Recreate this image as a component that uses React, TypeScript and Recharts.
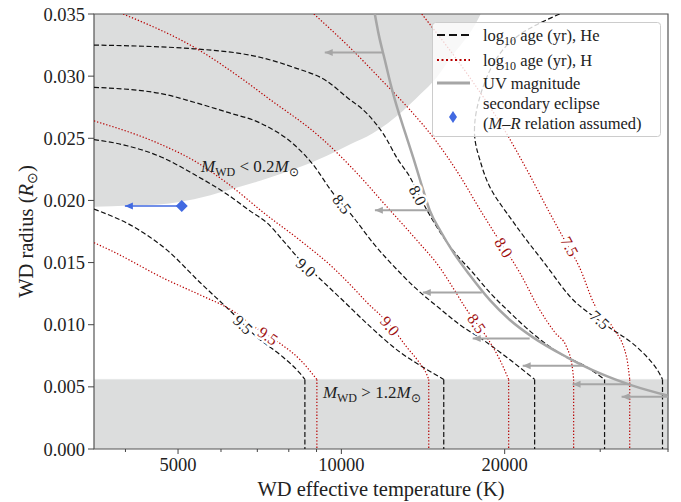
import React from 'react';
import {
  ComposedChart,
  Line,
  Area,
  Scatter,
  XAxis,
  YAxis,
  ReferenceArea,
  Legend
} from 'recharts';

// [T_eff (K), R (R_sun)]
const he75 = [[25252, 0.035], [21955, 0.0337], [19831, 0.0321], [18532, 0.0299], [17760, 0.0273], [17612, 0.0251], [17990, 0.0233], [18768, 0.0211], [20171, 0.019], [21955, 0.0168], [24204, 0.0144], [26344, 0.0123], [28676, 0.0109], [31612, 0.0096], [34414, 0.0085], [37456, 0.0069], [39078, 0.0056]];
const he80 = [[3500, 0.0325], [5351, 0.0322], [7109, 0.0315], [8176, 0.0307], [9403, 0.0296], [10236, 0.0283], [11142, 0.027], [11974, 0.0253], [12706, 0.0233], [13370, 0.0219], [13948, 0.0203], [14739, 0.0184], [16043, 0.016], [17463, 0.0142], [18768, 0.0126], [20428, 0.011], [22522, 0.0093], [25252, 0.0077], [28318, 0.0066], [30559, 0.0056]];
const he85 = [[3500, 0.0291], [4652, 0.0286], [5351, 0.0279], [6155, 0.0271], [7109, 0.0262], [8176, 0.0245], [8862, 0.0229], [9646, 0.0206], [10500, 0.0187], [11429, 0.0166], [12815, 0.0142], [13656, 0.013], [15183, 0.0113], [16527, 0.01], [18220, 0.0088], [20428, 0.0072], [22712, 0.0056]];
const he90 = [[3500, 0.0249], [4028, 0.0244], [4652, 0.0235], [5351, 0.0221], [6155, 0.0205], [6814, 0.0191], [7292, 0.0182], [7870, 0.0166], [8316, 0.0154], [9129, 0.0137], [10150, 0.0118], [11142, 0.0101], [12815, 0.0078], [14369, 0.0064], [15443, 0.0056]];
const he95 = [[3500, 0.0193], [4132, 0.0179], [4773, 0.016], [5489, 0.0134], [6313, 0.0109], [6989, 0.009], [7803, 0.0074], [8386, 0.0061], [8566, 0.0056]];

const h75 = [[14067, 0.035], [17242, 0.0299], [19831, 0.0259], [21955, 0.0225], [24204, 0.019], [25793, 0.0168], [27485, 0.0146], [29290, 0.0116], [31612, 0.0098], [33547, 0.0074], [34000, 0.0056]];
const h80 = [[8899, 0.035], [10367, 0.0323], [11974, 0.0295], [13370, 0.0273], [14990, 0.0247], [16527, 0.022], [17990, 0.0193], [19334, 0.0171], [21313, 0.0142], [23199, 0.0112], [24723, 0.0094], [26011, 0.0082], [26683, 0.0064], [26800, 0.0056]];
const h85 = [[3960, 0.035], [5512, 0.032], [6503, 0.0299], [7292, 0.0283], [9246, 0.0249], [10680, 0.0222], [12127, 0.0195], [13772, 0.0168], [15183, 0.0146], [16043, 0.013], [17025, 0.0112], [18532, 0.009], [19582, 0.0072], [20340, 0.0056]];
const h90 = [[3500, 0.0264], [4652, 0.0245], [5351, 0.0232], [6155, 0.0214], [7292, 0.0188], [8386, 0.0168], [9646, 0.0146], [10500, 0.013], [11142, 0.0118], [12283, 0.01], [13200, 0.0082], [13948, 0.0069], [14369, 0.006], [14490, 0.0056]];
const h95 = [[3500, 0.0166], [3748, 0.016], [4773, 0.0136], [5489, 0.0124], [6313, 0.0111], [6930, 0.0098], [7705, 0.0085], [8386, 0.0072], [8862, 0.006], [9013, 0.0056]];

const uvMagnitude = [[11526, 0.035], [11724, 0.0333], [12026, 0.0313], [12335, 0.0293], [12706, 0.0273], [13145, 0.0253], [13598, 0.0233], [14067, 0.0212], [14552, 0.0192], [15247, 0.0175], [16043, 0.0159], [17242, 0.014], [18768, 0.012], [20428, 0.0104], [22522, 0.009], [26011, 0.0074], [29918, 0.0061], [34414, 0.0051], [39914, 0.0043]];

// upper limits: [R, T from, T to]
const uvLimits = [[0.0319, 11900, 9320], [0.0192, 14550, 11530], [0.0126, 18150, 14130], [0.0089, 22240, 17460], [0.0067, 27960, 21590], [0.0052, 33980, 26680], [0.0042, 41800, 32850]];
const eclipseLimit = [0.01955, 5080, 3990];

// lower edge of the M < 0.2 Msun region
const lowMassEdge = [[3500, 0.0195], [4080, 0.0196], [4652, 0.0197], [5351, 0.0201], [6155, 0.0208], [7109, 0.0216], [8176, 0.0225], [9403, 0.0236], [10367, 0.0245], [11429, 0.0254], [12979, 0.0272], [13948, 0.0285], [14990, 0.0299], [16043, 0.0317], [16738, 0.0327], [17612, 0.0341], [18066, 0.035]];
const highMassTop = 0.0056;

const ageLabels = ['7.5', '8.0', '8.5', '9.0', '9.5'];
const heLabelAt = [[29918, 0.0104], [13831, 0.0204], [10022, 0.0197], [8603, 0.0146], [6587, 0.01]];
const hLabelAt = [[26344, 0.0163], [19915, 0.0162], [17760, 0.0101], [12283, 0.0099], [7323, 0.0091]];
const heLabelAngle = [42, 62, 52, 42, 44];
const hLabelAngle = [62, 58, 55, 50, 35];

const textAt = [[5512, 0.0223], [9246, 0.0041]];

const xTicks = [4000, 5000, 6000, 7000, 8000, 9000, 10000, 20000, 30000, 40000];
const xLabels = [5000, 10000, 20000];
const yTicks = [0, 0.005, 0.01, 0.015, 0.02, 0.025, 0.03, 0.035];

const SERIF = "'Liberation Serif', serif";
const HE_COLOR = '#111111';
const H_COLOR = '#b80000';
const GRAY = '#a6a6a6';
const BLUE = '#4169e1';
const SHADE = '#dcdddd';

const serif = (size: number) => ({ fontFamily: SERIF, fontSize: size });

const pts = (arr: number[][]) => arr.map(([t, r]) => ({ t, r }));
const drop = (arr: number[][]) => {
  const [t, r] = arr[arr.length - 1];
  return [{ t, r }, { t, r: 0 }];
};

const heTracks = [he75, he80, he85, he90, he95];
const hTracks = [h75, h80, h85, h90, h95];

const heLabels = heLabelAt.map(([t, r], i) => ({ t, r, text: ageLabels[i], angle: heLabelAngle[i] }));
const hLabels = hLabelAt.map(([t, r], i) => ({ t, r, text: ageLabels[i], angle: hLabelAngle[i] }));

const XTick = (props: any) => {
  const { x, y, payload } = props;
  const major = xLabels.includes(payload.value);
  return (
    <g>
      <line x1={x} x2={x} y1={y} y2={y + (major ? 5 : 3)} stroke="#444" strokeWidth={1} />
      {major && (
        <text x={x} y={y + 22} textAnchor="middle" style={serif(18.5)} fill="#222">
          {payload.value}
        </text>
      )}
    </g>
  );
};

const YTick = (props: any) => {
  const { x, y, payload } = props;
  return (
    <g>
      <line x1={x - 6} x2={x} y1={y} y2={y} stroke="#444" strokeWidth={1} />
      <text x={x - 9} y={y + 6.5} textAnchor="end" style={serif(18.5)} fill="#222">
        {Number(payload.value).toFixed(3)}
      </text>
    </g>
  );
};

const arrowDot = (color: string, withDiamond: boolean) => (p: any) => {
  const { cx, cy, index } = p;
  if (index === 1) {
    return <path key={`h${index}`} d={`M${cx},${cy}L${cx + 8},${cy - 3.5}L${cx + 8},${cy + 3.5}Z`} fill={color} />;
  }
  if (withDiamond) {
    return <path key={`d${index}`} d={`M${cx - 6},${cy}L${cx},${cy - 6}L${cx + 6},${cy}L${cx},${cy + 6}Z`} fill={color} />;
  }
  return <g key={`n${index}`} />;
};

const contourLabel = (color: string) => (p: any) => {
  const { cx, cy, payload } = p;
  return (
    <text
      x={cx}
      y={cy}
      transform={`rotate(${payload.angle} ${cx} ${cy})`}
      textAnchor="middle"
      dominantBaseline="central"
      style={serif(16)}
      fill={color}
      stroke="white"
      strokeWidth={5}
      paintOrder="stroke"
    >
      {payload.text}
    </text>
  );
};

const massText = (p: any) => {
  const { cx, cy, index } = p;
  const rel = index === 0 ? ' < 0.2' : ' > 1.2';
  return (
    <text x={cx} y={cy} style={serif(17)} fill="#222">
      <tspan fontStyle="italic">M</tspan>
      <tspan fontSize={12} dy={4}>WD</tspan>
      <tspan dy={-4}>{rel}</tspan>
      <tspan fontStyle="italic">M</tspan>
      <tspan fontSize={12} dy={4}>⊙</tspan>
    </text>
  );
};

const LegendBox = () => (
  <svg width={230} height={116} style={{ display: 'block' }}>
    <rect x={0.5} y={0.5} width={228} height={114} rx={3} fill="white" fillOpacity={0.8} stroke="#cccccc" />
    <line x1={5} x2={38} y1={13} y2={13} stroke={HE_COLOR} strokeWidth={2} strokeDasharray="8 4" />
    <line x1={5} x2={38} y1={38} y2={38} stroke={H_COLOR} strokeWidth={2} strokeDasharray="2 2.5" />
    <line x1={5} x2={38} y1={61} y2={61} stroke={GRAY} strokeWidth={3} />
    <path d="M21,89L25,95L21,101L17,95Z" fill={BLUE} />
    <g style={serif(16.5)} fill="#222">
      <text x={51} y={19}>log<tspan fontSize={12} dy={4}>10</tspan><tspan dy={-4}> age (yr), He</tspan></text>
      <text x={51} y={44}>log<tspan fontSize={12} dy={4}>10</tspan><tspan dy={-4}> age (yr), H</tspan></text>
      <text x={51} y={67}>UV magnitude</text>
      <text x={51} y={87}>secondary eclipse</text>
      <text x={51} y={107}>(<tspan fontStyle="italic">M</tspan>–<tspan fontStyle="italic">R</tspan> relation assumed)</text>
    </g>
  </svg>
);

const XTitle = (props: any) => {
  const { x, y, width } = props.viewBox;
  return (
    <text x={x + width / 2} y={y + 47} textAnchor="middle" style={serif(20.5)} fill="#222">
      WD effective temperature (K)
    </text>
  );
};

const YTitle = (props: any) => {
  const { x, y, height } = props.viewBox;
  const cx = x + 19;
  const cy = y + height / 2;
  return (
    <text x={cx} y={cy} transform={`rotate(-90 ${cx} ${cy})`} textAnchor="middle" style={serif(20.5)} fill="#222">
      WD radius (<tspan fontStyle="italic">R</tspan><tspan fontSize={14} dy={4}>⊙</tspan><tspan dy={-4}>)</tspan>
    </text>
  );
};

export default function App() {
  return (
    <div style={{ position: 'absolute', left: 0, top: 0, background: 'white' }}>
      <ComposedChart width={681} height={502} margin={{ top: 14, right: 13, bottom: 13, left: 14 }}>
        <XAxis
          dataKey="t"
          type="number"
          scale="log"
          domain={[3500, 40000]}
          allowDataOverflow
          ticks={xTicks}
          interval={0}
          tick={XTick}
          tickLine={false}
          tickSize={0}
          tickMargin={0}
          axisLine={false}
          height={40}
          label={{ content: XTitle }}
        />
        <YAxis
          type="number"
          domain={[0, 0.035]}
          allowDataOverflow
          ticks={yTicks}
          interval={0}
          tick={YTick}
          tickLine={false}
          tickSize={0}
          tickMargin={0}
          axisLine={false}
          width={80}
          label={{ content: YTitle }}
        />

        <Area data={pts(lowMassEdge)} dataKey="r" baseValue={0.035} type="monotone" fill={SHADE} fillOpacity={1} stroke="none" isAnimationActive={false} />
        <Area data={pts([[3500, highMassTop], [40000, highMassTop]])} dataKey="r" baseValue={0} type="linear" fill={SHADE} fillOpacity={1} stroke="#e6e7e7" isAnimationActive={false} />

        {heTracks.map((tr, i) => (
          <Line key={`he${i}`} data={pts(tr)} dataKey="r" type={i === 0 ? 'natural' : 'monotone'} stroke={HE_COLOR} strokeWidth={1.2} strokeDasharray="5 2.5" dot={false} activeDot={false} isAnimationActive={false} />
        ))}
        {heTracks.map((tr, i) => (
          <Line key={`hed${i}`} data={drop(tr)} dataKey="r" type="linear" stroke={HE_COLOR} strokeWidth={1.2} strokeDasharray="5 2.5" dot={false} activeDot={false} isAnimationActive={false} />
        ))}
        {hTracks.map((tr, i) => (
          <Line key={`h${i}`} data={pts(tr)} dataKey="r" type="monotone" stroke={H_COLOR} strokeWidth={1.2} strokeDasharray="1.3 1.9" dot={false} activeDot={false} isAnimationActive={false} />
        ))}
        {hTracks.map((tr, i) => (
          <Line key={`hd${i}`} data={drop(tr)} dataKey="r" type="linear" stroke={H_COLOR} strokeWidth={1.2} strokeDasharray="1.3 1.9" dot={false} activeDot={false} isAnimationActive={false} />
        ))}

        <Line data={pts(uvMagnitude)} dataKey="r" type="monotone" stroke={GRAY} strokeWidth={2.5} dot={false} activeDot={false} isAnimationActive={false} />
        {uvLimits.map(([r, t0, t1], i) => (
          <Line key={`uv${i}`} data={[{ t: t0, r }, { t: t1, r }]} dataKey="r" type="linear" stroke={GRAY} strokeWidth={2} dot={arrowDot(GRAY, false)} activeDot={false} isAnimationActive={false} />
        ))}
        <Line data={[{ t: eclipseLimit[1], r: eclipseLimit[0] }, { t: eclipseLimit[2], r: eclipseLimit[0] }]} dataKey="r" type="linear" stroke={BLUE} strokeWidth={1.6} dot={arrowDot(BLUE, true)} activeDot={false} isAnimationActive={false} />

        <Scatter data={heLabels} dataKey="r" shape={contourLabel('#222')} isAnimationActive={false} />
        <Scatter data={hLabels} dataKey="r" shape={contourLabel('#a01010')} isAnimationActive={false} />
        <Scatter data={pts(textAt)} dataKey="r" shape={massText} isAnimationActive={false} />

        <ReferenceArea x1={3500} x2={40000} y1={0} y2={0.035} fill="none" stroke="#555" strokeWidth={1.2} />

        <Legend
          layout="horizontal"
          verticalAlign="middle"
          align="center"
          content={() => <LegendBox />}
          wrapperStyle={{ left: 432, top: 22, width: 230, height: 116 }}
        />
      </ComposedChart>
    </div>
  );
}
